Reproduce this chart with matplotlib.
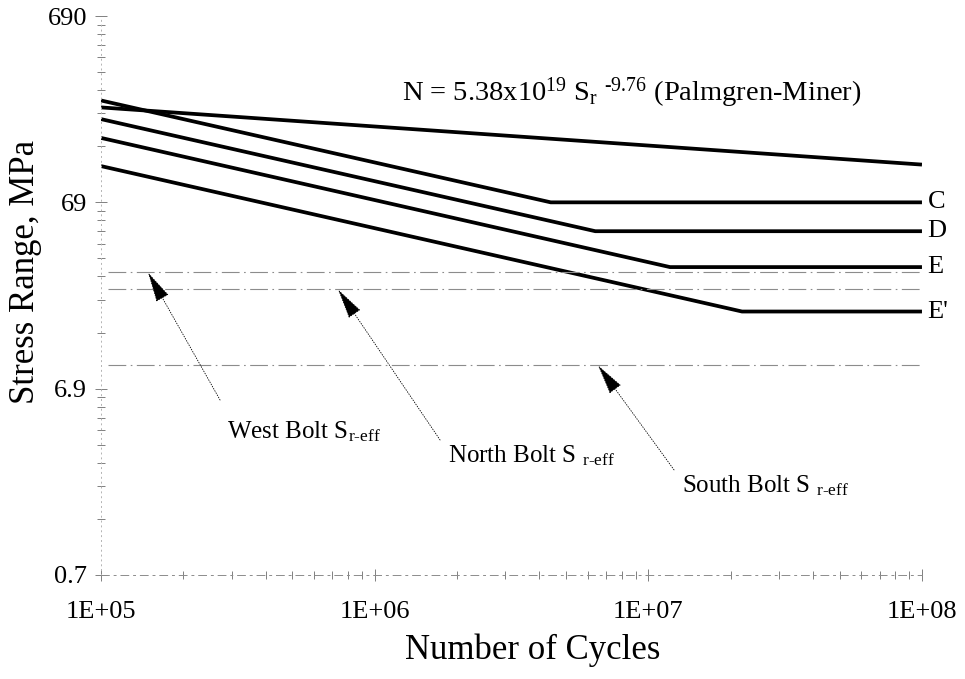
import matplotlib
matplotlib.use("Agg")
import matplotlib.pyplot as plt
from matplotlib.ticker import FixedLocator, NullFormatter

plt.rcParams["font.family"] = ["Liberation Serif", "DejaVu Serif"]
plt.rcParams["mathtext.fontset"] = "custom"
plt.rcParams["mathtext.rm"] = "Liberation Serif"
plt.rcParams["mathtext.it"] = "Liberation Serif:italic"

# AASHTO detail categories (stress range in MPa)
cat_names = ["C", "D", "E", "E'"]
cat_N = [[1e5, 4.4e6, 1e8], [1e5, 6.4e6, 1e8], [1e5, 1.2e7, 1e8], [1e5, 2.2e7, 1e8]]
cat_S = [[243, 69, 69], [193, 48.3, 48.3], [153, 31.0, 31.0], [108, 17.9, 17.9]]

# Palmgren-Miner fit
pm_N = [1e5, 1e8]
pm_S = [223, 110]

# effective stress ranges measured at the bolts
bolt_names = ["West", "North", "South"]
bolt_S = [29.0, 23.5, 9.2]
bolt_tip_N = [1.485e5, 7.35e5, 6.55e6]

x_ticks = [1e5, 1e6, 1e7, 1e8]
x_labels = ["1E+05", "1E+06", "1E+07", "1E+08"]
y_ticks = [0.69, 6.9, 69, 690]
y_labels = ["0.7", "6.9", "69", "690"]

fig = plt.figure(figsize=(9.65, 6.79), dpi=100)
ax = fig.add_axes([0.1047, 0.1532, 0.8507, 0.8232])
ax.set_xscale("log")
ax.set_yscale("log")
ax.set_xlim(1e5, 1e8)
ax.set_ylim(0.69, 690)

for n, s in zip(cat_N, cat_S):
    ax.plot(n, s, color="black", lw=2.7, solid_capstyle="butt")
ax.plot(pm_N, pm_S, color="black", lw=2.7, solid_capstyle="butt")

for name, n, s in zip(cat_names, cat_N, cat_S):
    ax.annotate(name, xy=(n[-1], s[-1]), xytext=(4, 0), textcoords="offset points",
                va="center", ha="left", fontsize=19, annotation_clip=False)

for s in bolt_S:
    ax.plot([1.06e5, 1e8], [s, s], color="0.55", lw=0.8, ls=(0, (16, 4, 1.5, 4)))

# labels and arrows for the bolt stress lines
hy = "\u2010"
text_pos = [(0.1535, 0.2558), (0.4227, 0.2129), (0.7077, 0.1592)]
tail_pos = [(0.145, 0.313), (0.413, 0.2415), (0.698, 0.188)]
label_fmt = ["{} Bolt S$_{{\\mathrm{{r" + hy + "eff}}}}$",
             "{} Bolt S $_{{\\mathrm{{r" + hy + "eff}}}}$",
             "{} Bolt S $_{{\\mathrm{{r" + hy + "eff}}}}$"]
for name, s, tip, tp, tl, fmt in zip(bolt_names, bolt_S, bolt_tip_N, text_pos, tail_pos, label_fmt):
    ax.text(tp[0], tp[1], fmt.format(name), transform=ax.transAxes,
            fontsize=18, ha="left", va="center")
    ax.annotate("", xy=(tip, s), xycoords="data", xytext=tl, textcoords="axes fraction",
                arrowprops=dict(arrowstyle="-|>,head_length=1.3,head_width=0.3",
                                mutation_scale=15, color="black", lw=0.6, ls=(0, (1, 2)),
                                shrinkA=0, shrinkB=0))

ax.text(0.3666, 0.862,
        "N = 5.38x10$^{19}$ S$_{\\mathrm{r}}$ $^{" + hy + "9.76}$ (Palmgren-Miner)",
        transform=ax.transAxes, fontsize=20.5, ha="left", va="center")

# axes and ticks
ax.xaxis.set_major_locator(FixedLocator(x_ticks))
ax.set_xticklabels(x_labels)
ax.yaxis.set_major_locator(FixedLocator(y_ticks))
ax.set_yticklabels(y_labels)
ax.yaxis.set_minor_locator(FixedLocator([m * t for t in y_ticks[:-1] for m in range(2, 10)]))
ax.yaxis.set_minor_formatter(NullFormatter())
ax.xaxis.set_minor_formatter(NullFormatter())
ax.tick_params(which="both", direction="inout", color="0.5", width=0.7)
ax.tick_params(which="major", length=8, labelsize=19)
ax.tick_params(axis="x", which="major", pad=15)
ax.tick_params(axis="y", which="major", pad=6)
ax.tick_params(which="minor", length=6)

for side in ["top", "right"]:
    ax.spines[side].set_visible(False)
ax.spines["left"].set_color("0.7")
ax.spines["left"].set_linestyle((0, (1, 4)))
ax.spines["left"].set_linewidth(0.7)
ax.spines["bottom"].set_color("0.55")
ax.spines["bottom"].set_linestyle((0, (8, 5, 2, 5)))
ax.spines["bottom"].set_linewidth(0.7)

fig.text(0.552, 0.043, "Number of Cycles", fontsize=25, ha="center", va="center")
fig.text(0.026, 0.60, "Stress Range, MPa", fontsize=25, ha="center", va="center",
         rotation=90)

fig.savefig("out.png", dpi=100)
